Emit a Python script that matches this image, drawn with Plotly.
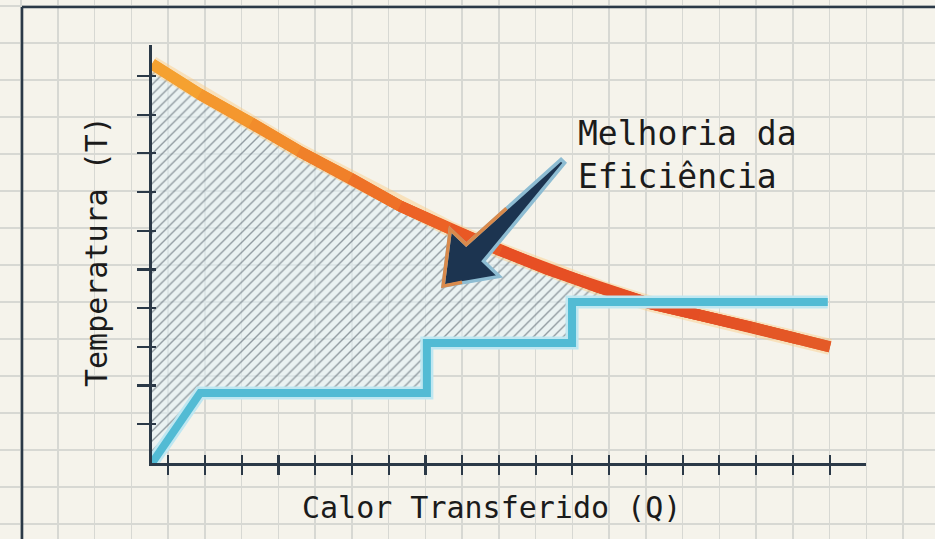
import numpy as np
import plotly.graph_objects as go

# ---------------- data ----------------
Q_CURVE = [0.0, 1.3, 2.7, 4.0, 5.4, 6.75, 8.1, 9.5, 10.8, 12.2, 13.55, 14.9, 16.3, 17.6, 18.45]
T_CURVE = [10.31, 9.53, 8.79, 8.06, 7.36, 6.64, 6.05, 5.48, 4.99, 4.52, 4.12, 3.82, 3.51, 3.20, 3.00]

Q_STEP = [0.0, 1.31, 7.48, 7.48, 11.43, 11.43, 18.39]
T_STEP = [0.0, 1.81, 1.81, 3.10, 3.10, 4.16, 4.16]

X_TICKS = [0.44 + k for k in range(19)]
Y_TICKS = list(range(1, 11))

X_TITLE = "Calor Transferido (Q)"
Y_TITLE = "Temperatura (T)"
NOTE = "Melhoria da<br>Eficiência"
NOTE_POS = (11.55, 7.95)
ARROW_TIP = (7.92, 4.57)
ARROW_TAIL = (11.18, 7.80)

# ---------------- layout constants ----------------
W, H = 935, 539
X_RANGE = [0, 19.43]
Y_RANGE = [0, 10.8]
AX_L, AX_R, AX_B, AX_T = 152, 866, 463, 45  # pixel frame of data axes
XDOM = [AX_L / W, AX_R / W]
YDOM = [(H - AX_B) / H, (H - AX_T) / H]
PX_X = (AX_R - AX_L) / (X_RANGE[1] - X_RANGE[0])
PX_Y = (AX_B - AX_T) / (Y_RANGE[1] - Y_RANGE[0])

INK = "#2b3947"
BG = "#f5f3eb"
GRID = "#d7d8d3"
FONT = "DejaVu Sans Mono"


def to_px(q, t):
    return AX_L + (q - X_RANGE[0]) * PX_X, AX_B - (t - Y_RANGE[0]) * PX_Y


def to_data(px, py):
    return X_RANGE[0] + (px - AX_L) / PX_X, Y_RANGE[0] + (AX_B - py) / PX_Y


# ---------------- hatched region ----------------
level = T_STEP[-1]
qx = None
for i in range(len(Q_CURVE) - 1):
    if T_CURVE[i] >= level > T_CURVE[i + 1]:
        f = (T_CURVE[i] - level) / (T_CURVE[i] - T_CURVE[i + 1])
        qx = Q_CURVE[i] + f * (Q_CURVE[i + 1] - Q_CURVE[i])
        break
top = [(q, t) for q, t in zip(Q_CURVE, T_CURVE) if q < qx] + [(qx, level)]
bottom = [(q, t) for q, t in zip(Q_STEP, T_STEP) if q < qx][::-1]
poly = top + bottom
poly_q = [p[0] for p in poly] + [poly[0][0]]
poly_t = [p[1] for p in poly] + [poly[0][1]]

fig = go.Figure()

# dummy traces so every axis pair exists
fig.add_trace(go.Scatter(x=[0], y=[0], xaxis="x", yaxis="y", mode="markers",
                         marker=dict(opacity=0), hoverinfo="skip", showlegend=False))
fig.add_trace(go.Scatter(x=[0], y=[0], xaxis="x3", yaxis="y2", mode="markers",
                         marker=dict(opacity=0), hoverinfo="skip", showlegend=False))
fig.add_trace(go.Scatter(x=[0], y=[0], xaxis="x2", yaxis="y3", mode="markers",
                         marker=dict(opacity=0), hoverinfo="skip", showlegend=False))

fig.add_trace(go.Scatter(
    x=poly_q, y=poly_t, xaxis="x2", yaxis="y2", mode="none", fill="toself",
    fillcolor="rgba(226,241,246,0.6)",
    fillpattern=dict(shape="/", size=7, solidity=0.2, fgcolor="#38444f",
                     bgcolor="rgba(226,241,246,0.6)"),
    hoverinfo="skip", showlegend=False))

# ---------------- hot curve (gradient) ----------------
fig.add_trace(go.Scatter(x=Q_CURVE, y=T_CURVE, xaxis="x2", yaxis="y2", mode="lines",
                         line=dict(color="rgba(252,205,130,0.45)", width=16),
                         hoverinfo="skip", showlegend=False))

STOPS_Q = [0.0, 4.0, 7.5, 10.0, 14.0, 18.5]
STOPS_RGB = [(246, 166, 50), (242, 136, 42), (236, 98, 38), (232, 80, 36), (228, 78, 36), (229, 92, 40)]


def grad(q):
    r = np.interp(q, STOPS_Q, [c[0] for c in STOPS_RGB])
    g = np.interp(q, STOPS_Q, [c[1] for c in STOPS_RGB])
    b = np.interp(q, STOPS_Q, [c[2] for c in STOPS_RGB])
    return f"rgb({int(r)},{int(g)},{int(b)})"


# continuous under-stroke fills the small wedges at segment joins
for i in range(len(Q_CURVE) - 2):
    fig.add_trace(go.Scatter(
        x=Q_CURVE[i:i + 3], y=T_CURVE[i:i + 3], xaxis="x2", yaxis="y2", mode="lines",
        line=dict(color=grad(Q_CURVE[i + 1]), width=11),
        hoverinfo="skip", showlegend=False))

for i in range(len(Q_CURVE) - 1):
    fig.add_trace(go.Scatter(
        x=Q_CURVE[i:i + 2], y=T_CURVE[i:i + 2], xaxis="x2", yaxis="y2", mode="lines",
        line=dict(color=grad(0.5 * (Q_CURVE[i] + Q_CURVE[i + 1])), width=11),
        hoverinfo="skip", showlegend=False))

# ---------------- cold step line ----------------
fig.add_trace(go.Scatter(x=Q_STEP, y=T_STEP, xaxis="x2", yaxis="y2", mode="lines",
                         line=dict(color="#bfe7f1", width=13),
                         hoverinfo="skip", showlegend=False))
fig.add_trace(go.Scatter(x=Q_STEP, y=T_STEP, xaxis="x2", yaxis="y2", mode="lines",
                         line=dict(color="#52bbd4", width=8),
                         hoverinfo="skip", showlegend=False))

# ---------------- arrow (computed from tip / tail) ----------------
tipx, tipy = to_px(*ARROW_TIP)
tailx, taily = to_px(*ARROW_TAIL)
L = np.hypot(tailx - tipx, taily - tipy)
u = np.array([(tailx - tipx) / L, (taily - tipy) / L])
n = np.array([-u[1], u[0]])  # perpendicular
if n[0] < 0:
    n = -n
HEAD_A, HEAD_B, NECK_B, TAIL_B = 46, 34, 12, 2.5


def P(a, b):
    p = np.array([tipx, tipy]) + a * u + b * n
    return to_data(p[0], p[1])


outline = [P(0, 0), P(HEAD_A, -HEAD_B), P(HEAD_A, -NECK_B), P(L, -TAIL_B),
           P(L, TAIL_B), P(HEAD_A, NECK_B), P(HEAD_A, HEAD_B)]


def path(pts, close=True):
    s = "M " + " L ".join(f"{q:.4f},{t:.4f}" for q, t in pts)
    return s + (" Z" if close else "")


shaft_mid = NECK_B - (100 - HEAD_A) / (L - HEAD_A) * (NECK_B - TAIL_B)
orange_edge = [P(100, -shaft_mid), P(HEAD_A, -NECK_B), P(HEAD_A, -HEAD_B), P(0, 0), P(16, 11)]

shapes = [
    dict(type="path", path=path(outline), xref="x2", yref="y2",
         fillcolor="#1c3450", line=dict(color="#8dbcd2", width=3.5), layer="above"),
    dict(type="path", path=path(orange_edge, close=False), xref="x2", yref="y2",
         line=dict(color="#d98a4c", width=3.5), layer="above"),
    # page frame
    dict(type="line", xref="paper", yref="paper", x0=22 / W, x1=1, y0=1 - 7 / H, y1=1 - 7 / H,
         line=dict(color=INK, width=2.6)),
    dict(type="line", xref="paper", yref="paper", x0=22 / W, x1=22 / W, y0=0, y1=1 - 7 / H,
         line=dict(color=INK, width=2.6)),
]

annotations = [
    dict(text=NOTE, x=NOTE_POS[0], y=NOTE_POS[1], xref="x2", yref="y2", xanchor="left",
         yanchor="middle", align="left", showarrow=False,
         font=dict(family=FONT, size=33, color="#1b1b1b")),
    dict(text=X_TITLE, x=491 / W, y=1 - 507 / H, xref="paper", yref="paper",
         xanchor="center", yanchor="middle", showarrow=False,
         font=dict(family=FONT, size=30, color="#1b1b1b")),
    dict(text=Y_TITLE, x=97 / W, y=1 - 252 / H, xref="paper", yref="paper", textangle=-90,
         xanchor="center", yanchor="middle", showarrow=False,
         font=dict(family=FONT, size=30, color="#1b1b1b")),
]

common_off = dict(showticklabels=False, zeroline=False, fixedrange=True)

fig.update_layout(
    width=W, height=H, margin=dict(l=0, r=0, t=0, b=0),
    paper_bgcolor=BG, plot_bgcolor="rgba(0,0,0,0)", showlegend=False,
    xaxis=dict(domain=[0, 1], range=[0, W], tick0=21, dtick=36.75, showgrid=True,
               gridcolor=GRID, gridwidth=1.5, ticks="", showline=False, **common_off),
    yaxis=dict(domain=[0, 1], range=[H, 0], tick0=43, dtick=37, showgrid=True,
               gridcolor=GRID, gridwidth=1.5, ticks="", showline=False, **common_off),
    xaxis2=dict(domain=XDOM, range=X_RANGE, anchor="y2", showline=True, linecolor=INK,
                linewidth=2.6, ticks="outside", tickvals=X_TICKS, ticklen=9, tickwidth=2.2,
                tickcolor=INK, showgrid=False, **common_off),
    yaxis2=dict(domain=YDOM, range=Y_RANGE, anchor="x2", showline=True, linecolor=INK,
                linewidth=2.6, ticks="outside", tickvals=Y_TICKS, ticklen=12, tickwidth=2.2,
                tickcolor=INK, showgrid=False, **common_off),
    xaxis3=dict(overlaying="x2", anchor="y2", range=X_RANGE, side="bottom", showline=False,
                ticks="inside", tickvals=X_TICKS, ticklen=8, tickwidth=2.2, tickcolor=INK,
                showgrid=False, **common_off),
    yaxis3=dict(overlaying="y2", anchor="x2", range=Y_RANGE, side="left", showline=False,
                ticks="inside", tickvals=Y_TICKS, ticklen=4, tickwidth=2.2, tickcolor=INK,
                showgrid=False, **common_off),
    shapes=shapes, annotations=annotations,
)

fig.write_html(
    "out.html",
    config={"displayModeBar": False, "staticPlot": True},
    post_script=(
        "document.documentElement.style.margin='0';"
        "document.body.style.margin='0';"
        "document.body.style.padding='0';"
        "document.body.style.overflow='hidden';"
        f"document.body.style.background='{BG}';"
    ),
)
